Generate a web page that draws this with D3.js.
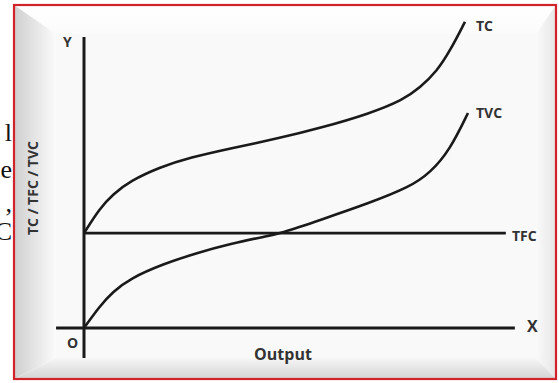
<!DOCTYPE html>
<html>
<head>
<meta charset="utf-8">
<script src="https://cdn.jsdelivr.net/npm/d3@7"></script>
<style>
  html, body { margin: 0; padding: 0; background: #fff; overflow: hidden; }
  text { font-family: "Open Sans", "Noto Sans", sans-serif; }
</style>
</head>
<body>
<main></main>
<script>
// output units along X, cost units along Y
const tcOutput  = [0, 0.37, 0.67, 1.07, 1.77, 2.47, 3.4, 4.56, 5.49, 6.65, 7.42, 7.81, 8.21, 8.51, 8.86]
const tcCost    = [32.6, 41.2, 45.9, 50.5, 55.3, 58.6, 61.7, 65.3, 68.7, 73.7, 78.4, 82.5, 88.3, 95.2, 105.2]
const tvcOutput = [0, 0.37, 0.67, 1.07, 1.84, 2.63, 3.4, 4.26, 4.56, 5.49, 6.65, 7.58, 8.05, 8.51, 8.93]
const tvcCost   = [0, 7.6, 12.4, 17.0, 22.0, 25.8, 28.9, 31.6, 32.5, 37.1, 43.0, 48.5, 53.3, 61.2, 73.9]
const tfcOutput = [0, 9.81]
const tfcCost   = [32.6, 32.6]
const sideText  = ["l", "e", ",", "C"]

const w = 559
const h = 383

const svg = d3.select("main").append("svg").attr("width", w).attr("height", h)

// stray text from the page next to the picture
svg.selectAll(".side")
  .data(sideText)
  .enter()
  .append("text")
  .attr("class", "side")
  .attr("x", 12)
  .attr("y", (d, i) => [141, 178, 212, 240][i])
  .attr("text-anchor", "end")
  .style("font-family", "'Liberation Serif', serif")
  .style("font-size", "26px")
  .attr("fill", "#111")
  .text((d) => d)

// bevelled frame
const outer = { x0: 14, y0: 5, x1: 556, y1: 379 }
const inner = { x0: 56, y0: 34, x1: 536, y1: 358 }

const defs = svg.append("defs")
const grad = (id, x1, y1, x2, y2, c1, c2) => {
  const g = defs.append("linearGradient").attr("id", id)
    .attr("x1", x1).attr("y1", y1).attr("x2", x2).attr("y2", y2)
  g.append("stop").attr("offset", "0%").attr("stop-color", c1)
  g.append("stop").attr("offset", "100%").attr("stop-color", c2)
}
grad("gl", "0%", "0%", "100%", "0%", "#cfcfcf", "#fbfbfb")
grad("gt", "0%", "0%", "0%", "100%", "#ffffff", "#fbfbfb")
grad("gr", "100%", "0%", "0%", "0%", "#e6e6e6", "#fafafa")
grad("gb", "0%", "100%", "0%", "0%", "#d4d4d4", "#f6f6f6")

svg.append("rect")
  .attr("x", inner.x0).attr("y", inner.y0)
  .attr("width", inner.x1 - inner.x0).attr("height", inner.y1 - inner.y0)
  .attr("fill", "#f9f9f9")

const panels = [
  { fill: "url(#gt)", pts: [[outer.x0, outer.y0], [outer.x1, outer.y0], [inner.x1, inner.y0], [inner.x0, inner.y0]] },
  { fill: "url(#gl)", pts: [[outer.x0, outer.y0], [inner.x0, inner.y0], [inner.x0, inner.y1], [outer.x0, outer.y1]] },
  { fill: "url(#gr)", pts: [[outer.x1, outer.y0], [outer.x1, outer.y1], [inner.x1, inner.y1], [inner.x1, inner.y0]] },
  { fill: "url(#gb)", pts: [[outer.x0, outer.y1], [inner.x0, inner.y1], [inner.x1, inner.y1], [outer.x1, outer.y1]] },
]
svg.selectAll(".bevel")
  .data(panels)
  .enter()
  .append("polygon")
  .attr("class", "bevel")
  .attr("points", (d) => d.pts.map((p) => p.join(",")).join(" "))
  .attr("fill", (d) => d.fill)

svg.append("rect")
  .attr("x", outer.x0).attr("y", outer.y0)
  .attr("width", outer.x1 - outer.x0).attr("height", outer.y1 - outer.y0)
  .attr("fill", "none")
  .attr("stroke", "#d1242a")
  .attr("stroke-width", 2.2)

// scales
const xScale = d3.scaleLinear().domain([0, 10]).range([84, 514])
const yScale = d3.scaleLinear().domain([0, 100]).range([328, 37])

// axes (plain lines, no ticks)
const ink = "#1a1a1a"
svg.append("line")
  .attr("x1", xScale(0)).attr("x2", xScale(0))
  .attr("y1", yScale(100)).attr("y2", yScale(-10.3))
  .attr("stroke", ink).attr("stroke-width", 3)
svg.append("line")
  .attr("x1", xScale(-0.65)).attr("x2", xScale(10.02))
  .attr("y1", yScale(0)).attr("y2", yScale(0))
  .attr("stroke", ink).attr("stroke-width", 3)

const line = d3.line()
  .x((d) => xScale(d[0]))
  .y((d) => yScale(d[1]))
  .curve(d3.curveBasis)

const series = [
  d3.zip(tfcOutput, tfcCost),
  d3.zip(tvcOutput, tvcCost),
  d3.zip(tcOutput, tcCost),
]
svg.selectAll(".curve")
  .data(series)
  .enter()
  .append("path")
  .attr("class", "curve")
  .attr("d", line)
  .attr("fill", "none")
  .attr("stroke", ink)
  .attr("stroke-width", 2.6)

// labels
const lab = (x, y, t, size, anchor = "start") =>
  svg.append("text")
    .attr("x", x).attr("y", y)
    .attr("text-anchor", anchor)
    .attr("fill", "#333")
    .style("font-size", size + "px")
    .style("font-weight", 700)
    .text(t)

lab(476, 31, "TC", 14)
lab(476, 118, "TVC", 14)
lab(512, 241, "TFC", 14)
lab(527, 332, "X", 16)
lab(63, 47, "Y", 14)
lab(67, 348, "O", 14)
lab(283, 360, "Output", 16, "middle")

svg.append("text")
  .attr("transform", "translate(38, 188) rotate(-90)")
  .attr("text-anchor", "middle")
  .attr("fill", "#333")
  .style("font-size", "14px")
  .style("font-weight", 700)
  .text("TC / TFC / TVC")
</script>
</body>
</html>
